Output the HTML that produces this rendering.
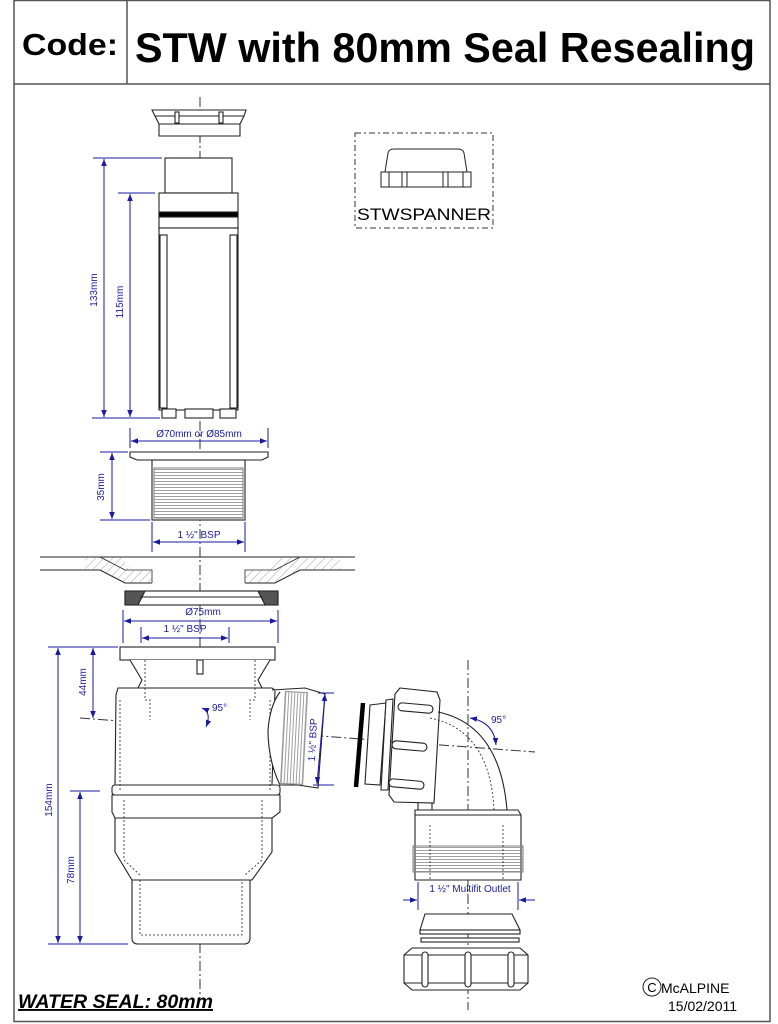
<!DOCTYPE html>
<html><head><meta charset="utf-8"><style>
html,body{margin:0;padding:0;background:#fff;width:778px;height:1024px;overflow:hidden}
svg{display:block}
text{font-family:"Liberation Sans",sans-serif}
.d{fill:#1a1aa0;font-size:10px}
</style></head><body>
<svg width="778" height="1024" viewBox="0 0 778 1024" xmlns="http://www.w3.org/2000/svg">
<defs>
<marker id="a" viewBox="0 0 10 10" refX="10" refY="5" markerWidth="7" markerHeight="7" orient="auto-start-reverse"><path d="M0,1 L10,5 L0,9z" fill="#1a1aa0"/></marker>
<pattern id="h" width="6" height="6" patternUnits="userSpaceOnUse" patternTransform="rotate(45)"><line x1="0" y1="0" x2="0" y2="6" stroke="#777" stroke-width="0.7"/></pattern>
<pattern id="t" width="6" height="3" patternUnits="userSpaceOnUse"><line x1="0" y1="1.5" x2="6" y2="1.5" stroke="#888" stroke-width="0.8"/></pattern>
<pattern id="tv" width="3" height="6" patternUnits="userSpaceOnUse"><line x1="1.5" y1="0" x2="1.5" y2="6" stroke="#888" stroke-width="0.8"/></pattern>
</defs>
<g fill="none" stroke="#555" stroke-width="1.5">
<rect x="14" y="0.5" width="756" height="1021"/>
<line x1="14" y1="84" x2="770" y2="84"/>
<line x1="127" y1="0" x2="127" y2="84"/>
</g>
<text x="22" y="55" font-size="31" font-weight="bold" fill="#000" textLength="96" lengthAdjust="spacingAndGlyphs">Code:</text>
<text x="135" y="62" font-size="42" font-weight="bold" fill="#000" textLength="620" lengthAdjust="spacingAndGlyphs">STW with 80mm Seal Resealing</text>

<g stroke="#333" stroke-width="1" stroke-dasharray="10,3,2,3" fill="none">
<line x1="200" y1="97" x2="200" y2="1000"/>
<line x1="468" y1="660" x2="468" y2="1010"/>
<line x1="80" y1="718" x2="535" y2="752"/>
</g>

<g fill="#fff" stroke="#222" stroke-width="1.1">
<path d="M152,110 L246,110 L244,116 L240,124 L240,136 L159,136 L159,124 L155,116z"/>
<line x1="155" y1="116" x2="244" y2="116"/>
<line x1="159" y1="124" x2="240" y2="124"/>
<rect x="175" y="112" width="4" height="11"/><rect x="219" y="112" width="4" height="11"/>
<rect x="165" y="158" width="67" height="35"/>
<rect x="159" y="193" width="79" height="35"/>
<rect x="159" y="212" width="79" height="5" fill="#000"/>
<rect x="159" y="228" width="79" height="182"/>
<rect x="160" y="235" width="7" height="173"/><rect x="230" y="235" width="7" height="173"/>
<rect x="162" y="409" width="14" height="9"/><rect x="185" y="409" width="28" height="9"/><rect x="220" y="409" width="16" height="9"/>
<path d="M130,452 L268,452 L268,457 L262,460 L137,460 L130,457z"/>
<rect x="152" y="460" width="93" height="60"/>
<rect x="154" y="468" width="89" height="50" fill="url(#t)" stroke="#888"/>
<path d="M40,557 L355,557" />
<path d="M40,570 L100,570 L125,583 L152,583 M245,583 L275,583 L300,570 L355,570" />
<path d="M100,557 L125,570 L152,570 L152,583 M245,583 L245,570 L275,570 L300,557" stroke-width="0.8"/>
<path d="M85,557 L122,557 L130,570 L152,570 L152,583 L125,583 L100,570 L85,570z" fill="url(#h)" stroke="none"/>
<path d="M245,570 L268,570 L278,557 L340,557 L340,570 L300,570 L275,583 L245,583z" fill="url(#h)" stroke="none"/>
<rect x="125" y="591" width="153" height="14"/>
<path d="M125,591 L145,591 L138,605 L125,605z" fill="#555"/>
<path d="M258,591 L278,591 L278,605 L265,605z" fill="#555"/>
<line x1="140" y1="597" x2="262" y2="597"/>
<rect x="120" y="647" width="155" height="13"/>
<path d="M130,660 L142,680 L138,688 L262,688 L258,680 L270,660"/>
<path d="M118,688 L272,688 L275,690 L272,785 L115,785 L116,695z"/>
<rect x="112" y="785" width="168" height="10" rx="3"/>
<path d="M112,795 L280,795 L280,812 L272,818 L272,852 L252,880 L132,880 L115,852 L115,818 L112,812z"/>
<line x1="115" y1="818" x2="272" y2="818"/>
<path d="M132,880 L250,880 L250,938 Q250,944 244,944 L138,944 Q132,944 132,938z"/>
<g stroke-dasharray="2,2" stroke-width="0.8" fill="none">
<path d="M145,660 L145,700 L150,700 L150,720"/><path d="M255,660 L255,700 L250,700 L250,720"/>
<path d="M120,700 L120,790 M270,700 L270,790"/>
<path d="M124,800 L124,860 L140,875 M262,800 L262,860 L245,875"/>
<path d="M140,880 L140,935 L242,935 L242,880"/>
</g>
<rect x="197" y="660" width="6" height="14"/>
<path d="M272,690 L305,688 L325,694 L318,788 L298,785 L280,785 Q268,760 268,730 Q270,705 280,692"/>
<rect x="283" y="692" width="22" height="92" fill="url(#tv)" stroke="#999" transform="rotate(3 294 738)"/>
<line x1="363" y1="703" x2="356" y2="787" stroke="#000" stroke-width="4.5"/>
<path d="M370,705 L386,703 L380,785 L365,784z"/>
<path d="M386,700 L393,699 L388,790 L381,790z"/>
<path d="M400,688 L437,692 L440,700 L434,803 L394,802 L389,795 L395,694z"/>
<rect x="398" y="704" width="35" height="8" rx="4" transform="rotate(5 415 708)"/>
<rect x="392" y="742" width="35" height="8" rx="4" transform="rotate(5 410 746)"/>
<rect x="389" y="780" width="35" height="8" rx="4" transform="rotate(5 406 784)"/>
<path d="M438,712 Q500,725 507,810" fill="none"/>
<path d="M430,718 Q490,730 494,810" fill="none" stroke-dasharray="2,2" stroke-width="0.8"/>
<path d="M418,803 L418,810 M432,803 L432,810" fill="none"/>
<path d="M415,810 L518,810 L521,815 L521,880 L415,880 L415,815z"/>
<line x1="415" y1="815" x2="521" y2="815"/>
<rect x="413" y="846" width="110" height="26" fill="url(#t)" stroke="#888"/>
<path d="M430,825 L430,880 M503,825 L503,880" stroke-dasharray="2,2" stroke-width="0.8"/>
<path d="M420,930 L425,914 L512,914 L520,930z"/>
<rect x="420" y="930" width="100" height="4"/>
<rect x="421" y="938" width="98" height="4"/>
<path d="M412,948 L520,948 L528,955 L528,983 L520,990 L412,990 L404,983 L404,955z"/>
<line x1="404" y1="955" x2="528" y2="955"/><line x1="404" y1="983" x2="528" y2="983"/>
<rect x="422" y="952" width="6" height="35" rx="3"/><rect x="465" y="952" width="6" height="35" rx="3"/><rect x="508" y="952" width="6" height="35" rx="3"/>
</g>

<g stroke="#1a1aa0" stroke-width="1" fill="none">
<line x1="93" y1="158" x2="162" y2="158"/><line x1="118" y1="193" x2="155" y2="193"/><line x1="92" y1="418" x2="160" y2="418"/>
<line x1="104" y1="159" x2="104" y2="417" marker-start="url(#a)" marker-end="url(#a)"/>
<line x1="130" y1="194" x2="130" y2="417" marker-start="url(#a)" marker-end="url(#a)"/>
<line x1="130" y1="428" x2="130" y2="448"/><line x1="268" y1="428" x2="268" y2="448"/>
<line x1="131" y1="441" x2="267" y2="441" marker-start="url(#a)" marker-end="url(#a)"/>
<line x1="100" y1="452" x2="128" y2="452"/><line x1="100" y1="520" x2="150" y2="520"/>
<line x1="112" y1="453" x2="112" y2="519" marker-start="url(#a)" marker-end="url(#a)"/>
<line x1="152" y1="522" x2="152" y2="552"/><line x1="245" y1="522" x2="245" y2="552"/>
<line x1="153" y1="542" x2="244" y2="542" marker-start="url(#a)" marker-end="url(#a)"/>
<line x1="123" y1="610" x2="123" y2="643"/><line x1="278" y1="610" x2="278" y2="643"/>
<line x1="124" y1="621" x2="277" y2="621" marker-start="url(#a)" marker-end="url(#a)"/>
<line x1="141" y1="627" x2="141" y2="643"/><line x1="229" y1="627" x2="229" y2="643"/>
<line x1="142" y1="638" x2="228" y2="638" marker-start="url(#a)" marker-end="url(#a)"/>
<line x1="48" y1="647" x2="118" y2="647"/><line x1="48" y1="944" x2="128" y2="944"/><line x1="70" y1="791" x2="100" y2="791"/>
<line x1="58" y1="648" x2="58" y2="943" marker-start="url(#a)" marker-end="url(#a)"/>
<line x1="93" y1="648" x2="93" y2="718" marker-start="url(#a)" marker-end="url(#a)"/>
<line x1="80" y1="792" x2="80" y2="943" marker-start="url(#a)" marker-end="url(#a)"/>
<path d="M202,708 Q212,712 206,727" marker-start="url(#a)" marker-end="url(#a)"/>
<path d="M470,718 Q494,722 496,745" marker-start="url(#a)" marker-end="url(#a)"/>
<line x1="318" y1="693" x2="334" y2="693"/><line x1="313" y1="785" x2="334" y2="785"/>
<line x1="325" y1="694" x2="317" y2="784" marker-start="url(#a)" marker-end="url(#a)"/>
<line x1="418" y1="882" x2="418" y2="910"/><line x1="518" y1="882" x2="518" y2="910"/>
<line x1="403" y1="900" x2="417" y2="900" marker-end="url(#a)"/><line x1="535" y1="900" x2="519" y2="900" marker-end="url(#a)"/>
</g>
<g class="d">
<text x="97" y="290" transform="rotate(-90 97 290)" text-anchor="middle">133mm</text>
<text x="123" y="302" transform="rotate(-90 123 302)" text-anchor="middle">115mm</text>
<text x="199" y="437" text-anchor="middle">Ø70mm or Ø85mm</text>
<text x="104" y="487" transform="rotate(-90 104 487)" text-anchor="middle">35mm</text>
<text x="199" y="538" text-anchor="middle">1 ½" BSP</text>
<text x="203" y="615" text-anchor="middle">Ø75mm</text>
<text x="185" y="632" text-anchor="middle">1 ½" BSP</text>
<text x="52" y="800" transform="rotate(-90 52 800)" text-anchor="middle">154mm</text>
<text x="86" y="682" transform="rotate(-90 86 682)" text-anchor="middle">44mm</text>
<text x="74" y="870" transform="rotate(-90 74 870)" text-anchor="middle">78mm</text>
<text x="212" y="711">95°</text>
<text x="491" y="723">95°</text>
<text x="316" y="740" transform="rotate(-87 316 740)" text-anchor="middle">1 ½" BSP</text>
<text x="470" y="892" text-anchor="middle">1 ½" Multifit Outlet</text>
</g>

<rect x="355" y="133" width="138" height="95" fill="none" stroke="#333" stroke-dasharray="6,3,2,3"/>
<g fill="#fff" stroke="#222" stroke-width="1">
<path d="M385,172 L388,153 Q389,149 394,149 L458,149 Q463,149 464,153 L467,172z"/>
<rect x="381" y="172" width="90" height="15"/>
<line x1="389" y1="172" x2="389" y2="187"/><line x1="402" y1="172" x2="402" y2="187"/>
<line x1="407" y1="172" x2="407" y2="187"/><line x1="443" y1="172" x2="443" y2="187"/>
<line x1="448" y1="172" x2="448" y2="187"/><line x1="463" y1="172" x2="463" y2="187"/>
</g>
<text x="357" y="220" font-size="17" fill="#000" textLength="134" lengthAdjust="spacingAndGlyphs">STWSPANNER</text>

<text x="18" y="1008" font-size="19" font-weight="bold" font-style="italic" fill="#000" text-decoration="underline" textLength="195" lengthAdjust="spacingAndGlyphs">WATER SEAL: 80mm</text>
<circle cx="652" cy="987" r="9" fill="none" stroke="#222"/>
<text x="652" y="992" font-size="13" text-anchor="middle" fill="#000">C</text>
<text x="661" y="993" font-size="14" fill="#000">McALPINE</text>
<text x="668" y="1011" font-size="14" fill="#000">15/02/2011</text>
</svg>
</body></html>
